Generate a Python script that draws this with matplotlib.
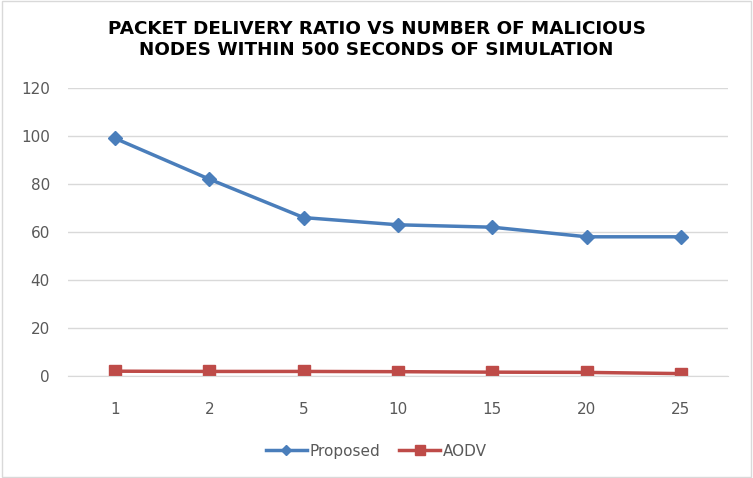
import matplotlib.pyplot as plt
from matplotlib.patches import Rectangle

# Data
malicious_nodes = ["1", "2", "5", "10", "15", "20", "25"]
proposed = [99, 82, 66, 63, 62, 58, 58]
aodv = [2, 1.9, 1.9, 1.8, 1.6, 1.5, 1.0]

blue = "#4A7EBB"
red = "#BE4B48"
gray = "#595959"

fig = plt.figure(figsize=(7.53, 4.78), dpi=100)
ax = fig.add_axes([0.0903, 0.2134, 0.8765, 0.6025])

x = range(len(malicious_nodes))
ax.plot(x, proposed, color=blue, lw=2.5, marker="D", ms=7, label="Proposed")
ax.plot(x, aodv, color=red, lw=2.5, marker="s", ms=9, label="AODV")

ax.set_xlim(-0.5, len(malicious_nodes) - 0.5)
ax.set_ylim(0, 120)
ax.set_yticks(range(0, 121, 20))
ax.set_xticks(list(x))
ax.set_xticklabels(malicious_nodes)
ax.grid(axis="y", color="#D9D9D9", lw=1)
ax.set_axisbelow(True)
for s in ax.spines.values():
    s.set_visible(False)
ax.spines["bottom"].set_visible(True)
ax.spines["bottom"].set_color("#D9D9D9")
ax.tick_params(length=0, colors=gray, labelsize=11)
ax.tick_params(axis="x", pad=19)
ax.tick_params(axis="y", pad=13)

fig.text(0.5, 0.918, "PACKET DELIVERY RATIO VS NUMBER OF MALICIOUS\nNODES WITHIN 500 SECONDS OF SIMULATION",
         ha="center", va="center", fontsize=13.2, fontweight="bold", family="DejaVu Sans",
         color="#000000", linespacing=1.22)

fig.legend(loc="center", bbox_to_anchor=(0.5, 0.056), ncol=2, frameon=False,
           fontsize=11, labelcolor=gray, handlelength=2.7, columnspacing=1.2,
           handletextpad=0.2, markerscale=0.8)

fig.patches.append(Rectangle((0.003, 0.003), 0.994, 0.994, transform=fig.transFigure,
                             fill=False, edgecolor="#D9D9D9", lw=1))

fig.savefig("out.png", dpi=100)
